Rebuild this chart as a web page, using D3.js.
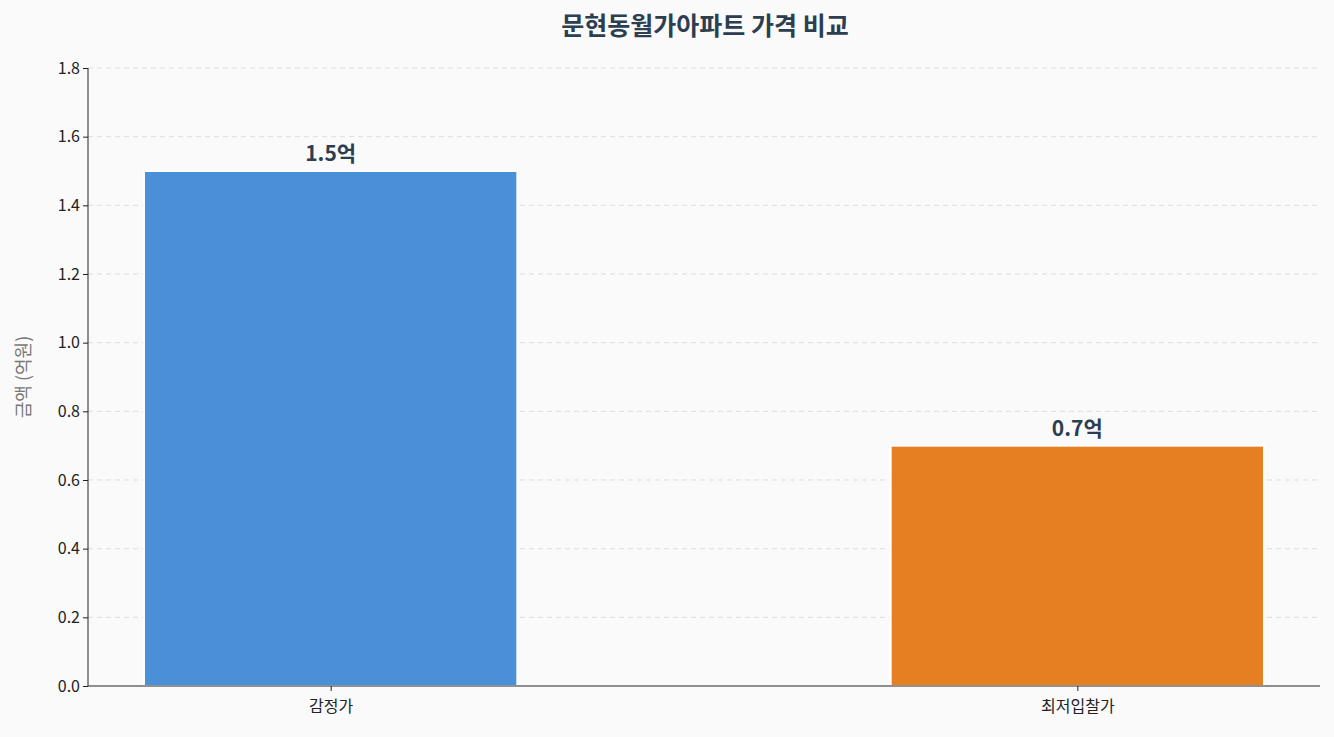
<!DOCTYPE html><html><head><meta charset="utf-8"><script src="https://cdn.jsdelivr.net/npm/d3@7"></script>
<style>body{margin:0;background:#fafafa;font-family:"Noto Sans CJK KR","Noto Sans",sans-serif}</style></head><body>
<svg id="c" width="1334" height="737"></svg>
<script>
const categories=["감정가","최저입찰가"];
const values=[1.5,0.7];
const labels=["1.5억","0.7억"];
const colors=["#4a90d9","#e67e22"];
const yTicks=[0,0.2,0.4,0.6,0.8,1.0,1.2,1.4,1.6,1.8];
const svg=d3.select("#c");
svg.append("rect").attr("width",1334).attr("height",737).attr("fill","#fafafa");
const x=d3.scaleLinear().domain([-0.325,1.325]).range([88,1320]);
const y=d3.scaleLinear().domain([0,1.8]).range([686,68]);
const g=svg.append("g");
g.selectAll(".gl").data(yTicks.slice(1)).join("line").attr("x1",88).attr("x2",1320).attr("y1",d=>y(d)).attr("y2",d=>y(d)).attr("stroke","#ddd").attr("stroke-dasharray","5,4").attr("stroke-width",1);
const bw=x(0.5)-x(0);
g.selectAll(".b").data(values).join("rect").attr("x",(d,i)=>x(i)-bw/2).attr("width",bw).attr("y",d=>y(d)).attr("height",d=>y(0)-y(d)).attr("fill",(d,i)=>colors[i]).attr("stroke","#fff").attr("stroke-width",2);
g.selectAll(".l").data(values).join("text").attr("x",(d,i)=>x(i)).attr("y",d=>y(d)-10).attr("text-anchor","middle").attr("font-size",21).attr("font-weight","bold").attr("fill","#2c3e50").text((d,i)=>labels[i]);
const ya=svg.append("g").attr("transform","translate(88,0)").call(d3.axisLeft(y).tickValues(yTicks).tickFormat(d3.format(".1f")).tickSize(5));
const xa=svg.append("g").attr("transform","translate(0,686)").call(d3.axisBottom(x).tickValues([0,1]).tickFormat(i=>categories[i]).tickSize(5));
[ya,xa].forEach(a=>{a.selectAll("text").attr("font-size",16).attr("fill","#222").style("font-family","'Noto Sans CJK KR'");a.select(".domain").attr("stroke","#222");a.selectAll(".tick line").attr("stroke","#222");});
ya.select(".domain").attr("d","M0,68V686");
xa.select(".domain").attr("d","M88,0H1320");
xa.selectAll("text").attr("dy","1.1em");
svg.append("text").attr("transform","translate(30,377) rotate(-90)").attr("text-anchor","middle").attr("font-size",18).attr("fill","#777").text("금액 (억원)");
svg.append("text").attr("x",705).attr("y",35).attr("text-anchor","middle").attr("font-size",25).attr("font-weight","bold").attr("fill","#2c3e50").text("문현동월가아파트 가격 비교");
</script></body></html>
